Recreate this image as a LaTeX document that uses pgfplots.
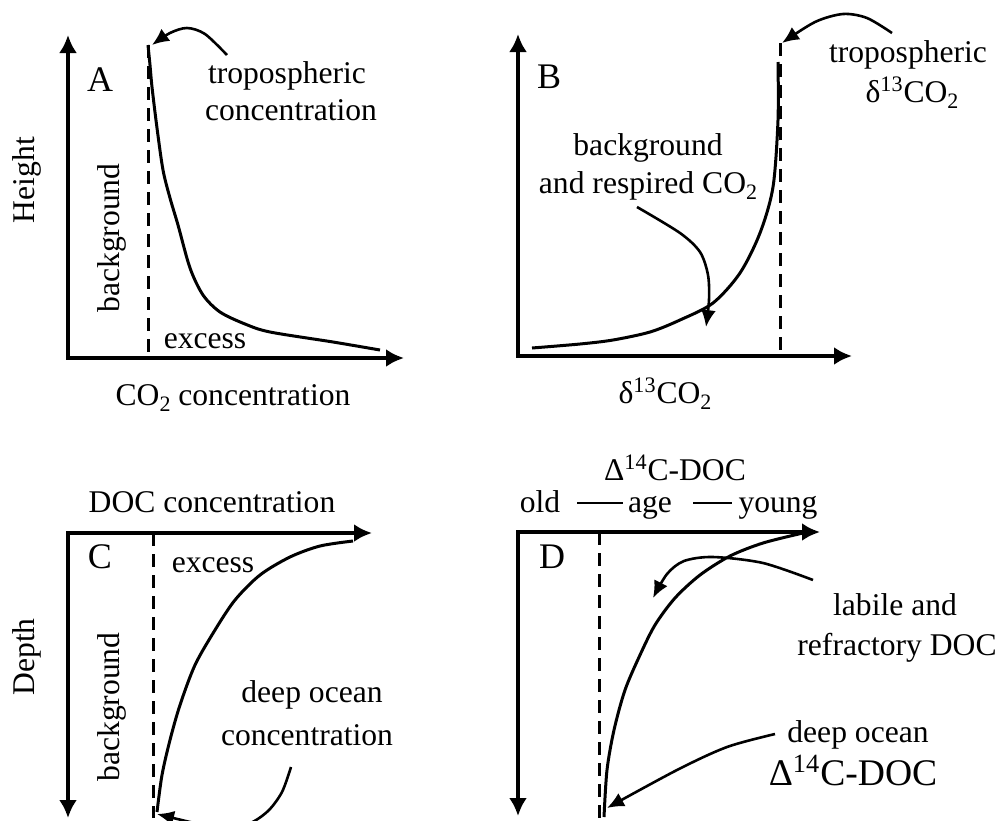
\documentclass[border=0pt]{standalone}
\usepackage{pgfplots}
\pgfplotsset{compat=1.18}
\usepackage{fontspec}
\setmainfont{Liberation Serif}
\usetikzlibrary{arrows.meta}
\tikzset{lbl/.style={font=\fontsize{15.8}{19}\selectfont, inner sep=0pt},
         pan/.style={font=\fontsize{18}{21}\selectfont, inner sep=0pt}}
\newcommand{\sub}[1]{\raisebox{-0.45ex}{\fontsize{11}{12}\selectfont #1}}
\begin{document}
\begin{tikzpicture}
\begin{axis}[width=500pt,height=410pt,scale only axis,hide axis,clip=false,
  xmin=0,xmax=1000,ymin=0,ymax=820,y dir=reverse]
% ---------- axes ----------
\addplot[line width=2pt,{Latex[length=9pt,width=9pt]}-{Latex[length=9pt,width=9pt]}] coordinates {(68,35) (68,358) (404,358)};
\addplot[line width=2pt,{Latex[length=9pt,width=9pt]}-{Latex[length=9pt,width=9pt]}] coordinates {(518,34) (518,356) (852,356)};
\addplot[line width=2pt,{Latex[length=9pt,width=9pt]}-{Latex[length=9pt,width=9pt]}] coordinates {(68,818) (68,533) (372,533)};
\addplot[line width=2pt,{Latex[length=9pt,width=9pt]}-{Latex[length=9pt,width=9pt]}] coordinates {(518,816) (518,532) (820,532)};
% ---------- dashed background lines ----------
\addplot[line width=1.5pt,dash pattern=on 6.5pt off 4pt] coordinates {(148,45) (148,358)};
\addplot[line width=1.5pt,dash pattern=on 6.5pt off 4pt] coordinates {(780,43) (780,356)};
\addplot[line width=1.5pt,dash pattern=on 6.5pt off 4pt] coordinates {(153,533) (153,818)};
\addplot[line width=1.5pt,dash pattern=on 6.5pt off 4pt] coordinates {(599,532) (599,820)};
% ---------- profiles ----------
\addplot[line width=1.5pt,smooth] coordinates {(148,45) (150,65) (152,87) (157,128) (163,170) (170,198) (178,225) (190,268) (203,295) (220,312) (245,324) (270,332) (333,342) (380,350)};
\addplot[line width=1.5pt,smooth] coordinates {(532,348) (580,344) (613,340) (650,332) (680,320) (713,303) (740,273) (760,233) (773,187) (778,120) (778,62)};
\addplot[line width=1.5pt,smooth] coordinates {(353,541) (320,546) (290,557) (260,575) (235,600) (215,630) (195,665) (180,705) (170,740) (162,775) (157,812)};
\addplot[line width=1.5pt,smooth] coordinates {(803,533) (763,543) (730,556) (700,575) (675,598) (655,625) (640,655) (625,690) (614,730) (607,770) (604,817)};
% ---------- annotation arrows ----------
\addplot[line width=1.3pt,smooth,-{Latex[length=8.5pt,width=7.5pt]}] coordinates {(227,55) (205,34) (187,28) (170,33) (152,45)};
\addplot[line width=1.3pt,smooth,-{Latex[length=8.5pt,width=7.5pt]}] coordinates {(892,33) (867,18) (843,14) (815,22) (782,43)};
\addplot[line width=1.3pt,smooth,-{Latex[length=8.5pt,width=7.5pt]}] coordinates {(637,207) (680,233) (700,252) (708,275) (709,300) (706,327)};
\addplot[line width=1.3pt,smooth,-{Latex[length=8.5pt,width=7.5pt]}] coordinates {(291,767) (282,792) (268,811) (248,824) (218,828) (190,822) (157,814)};
\addplot[line width=1.3pt,smooth,-{Latex[length=8.5pt,width=7.5pt]}] coordinates {(813,580) (763,563) (713,557) (684,561) (667,574) (653,598)};
\addplot[line width=1.3pt,smooth,-{Latex[length=8.5pt,width=7.5pt]}] coordinates {(775,734) (727,747) (677,770) (607,808)};
% ---------- dashes in age label ----------
\addplot[line width=0.9pt] coordinates {(577,503) (623,503)};
\addplot[line width=0.9pt] coordinates {(693,503) (732,503)};
% ---------- text: panel A ----------
\node[pan,anchor=base] at (axis cs:100,91) {A};
\node[lbl,anchor=base] at (axis cs:287,83) {tropospheric};
\node[lbl,anchor=base] at (axis cs:291,120) {concentration};
\node[lbl,rotate=90] at (axis cs:27,180) {Height};
\node[lbl,rotate=90] at (axis cs:112,238) {background};
\node[lbl,anchor=base] at (axis cs:205,348) {excess};
\node[lbl,anchor=base] at (axis cs:233,405) {CO\sub{2} concentration};
% ---------- text: panel B ----------
\node[pan,anchor=base] at (axis cs:549,88) {B};
\node[lbl,anchor=base] at (axis cs:908,62) {tropospheric};
\node[lbl,anchor=base] at (axis cs:912,102) {δ\textsuperscript{13}CO\sub{2}};
\node[lbl,anchor=base] at (axis cs:648,155) {background};
\node[lbl,anchor=base] at (axis cs:648,193) {and respired CO\sub{2}};
\node[lbl,anchor=base] at (axis cs:665,403) {δ\textsuperscript{13}CO\sub{2}};
% ---------- text: panel C ----------
\node[lbl,anchor=base] at (axis cs:212,512) {DOC concentration};
\node[pan,anchor=base] at (axis cs:100,568) {C};
\node[lbl,anchor=base] at (axis cs:213,572) {excess};
\node[lbl,rotate=90] at (axis cs:27,657) {Depth};
\node[lbl,rotate=90] at (axis cs:112,707) {background};
\node[lbl,anchor=base] at (axis cs:312,702) {deep ocean};
\node[lbl,anchor=base] at (axis cs:307,745) {concentration};
% ---------- text: panel D ----------
\node[lbl,anchor=base] at (axis cs:675,480) {Δ\textsuperscript{14}C-DOC};
\node[lbl,anchor=base] at (axis cs:540,512) {old};
\node[lbl,anchor=base] at (axis cs:650,512) {age};
\node[lbl,anchor=base] at (axis cs:778,512) {young};
\node[pan,anchor=base] at (axis cs:552,568) {D};
\node[lbl,anchor=base] at (axis cs:895,615) {labile and};
\node[lbl,anchor=base] at (axis cs:897,655) {refractory DOC};
\node[lbl,anchor=base] at (axis cs:858,742) {deep ocean};
\node[lbl,anchor=base,font=\fontsize{18.8}{22}\selectfont] at (axis cs:853,785) {Δ\textsuperscript{14}C-DOC};
\end{axis}
\pgfresetboundingbox
\path[use as bounding box] (current axis.south west) rectangle (current axis.north east);
\end{tikzpicture}
\end{document}
